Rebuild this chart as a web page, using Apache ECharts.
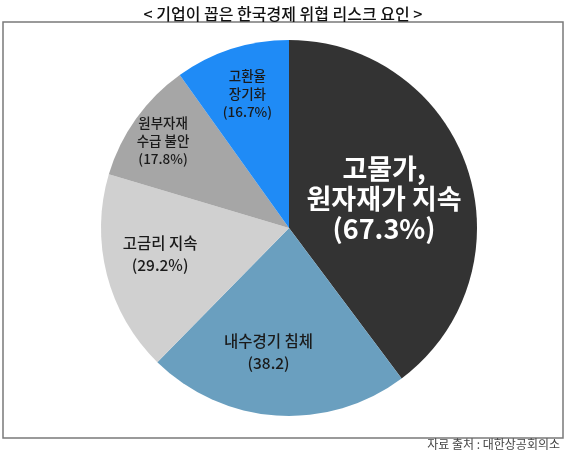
<!DOCTYPE html>
<html><head><meta charset="utf-8">
<script src="https://cdn.jsdelivr.net/npm/echarts@6/dist/echarts.min.js"></script>
<style>html,body{margin:0;padding:0;background:#fff}#c{width:566px;height:457px}</style>
</head><body><div id="c"></div>
<script>
const titleText = '< 기업이 꼽은 한국경제 위협 리스크 요인 >';
const sourceText = '자료 출처 : 대한상공회의소';
const categories = ['고물가,\n원자재가 지속', '내수경기 침체', '고금리 지속', '원부자재\n수급 불안', '고환율\n장기화'];
const values = [67.3, 38.2, 29.2, 17.8, 16.7];
const valueLabels = ['(67.3%)', '(38.2)', '(29.2%)', '(17.8%)', '(16.7%)'];
const colors = ['#333333', '#6a9fbf', '#d0d0d0', '#a6a6a6', '#1f8bf6'];

const labelStyles = [
  {fontSize: 27, fontWeight: 'bold', color: '#ffffff', lineHeight: 30, offset: [3, 1]},
  {fontSize: 15.5, fontWeight: 500, color: '#1a1a1a', lineHeight: 22, offset: [-14, 27]},
  {fontSize: 15.5, fontWeight: 500, color: '#1a1a1a', lineHeight: 22, offset: [-35, 2]},
  {fontSize: 13.5, fontWeight: 500, color: '#1a1a1a', lineHeight: 18, offset: [-47, -31]},
  {fontSize: 13.5, fontWeight: 500, color: '#1a1a1a', lineHeight: 18, offset: [-12, -42]}
];

const data = categories.map((name, i) => ({
  name: name,
  value: values[i],
  itemStyle: {color: colors[i]},
  label: Object.assign({formatter: name + '\n' + valueLabels[i]}, labelStyles[i])
}));

const chart = echarts.init(document.getElementById('c'), null, {renderer: 'canvas'});
chart.setOption({
  animation: false,
  textStyle: {fontFamily: '"Noto Sans CJK KR", "Noto Sans", sans-serif'},
  title: {
    text: titleText, left: 'center', top: 1,
    textStyle: {fontSize: 16, fontWeight: 500, color: '#111', fontFamily: '"Noto Sans CJK KR", sans-serif'}
  },
  graphic: [
    {type: 'rect', shape: {x: 3, y: 22, width: 560, height: 416}, style: {fill: 'none', stroke: '#7a7a7a', lineWidth: 1.5}, z: -1},
    {type: 'text', right: 6, top: 438, style: {text: sourceText, fill: '#444', font: '12px "Noto Sans CJK KR", sans-serif'}}
  ],
  series: [{
    type: 'pie',
    center: [289, 228],
    radius: [0, 188],
    startAngle: 90,
    clockwise: true,
    avoidLabelOverlap: false,
    label: {show: true, position: 'inside', align: 'center', fontFamily: '"Noto Sans CJK KR", sans-serif'},
    labelLine: {show: false},
    itemStyle: {borderWidth: 0},
    emphasis: {disabled: true},
    data: data
  }]
});
</script></body></html>
